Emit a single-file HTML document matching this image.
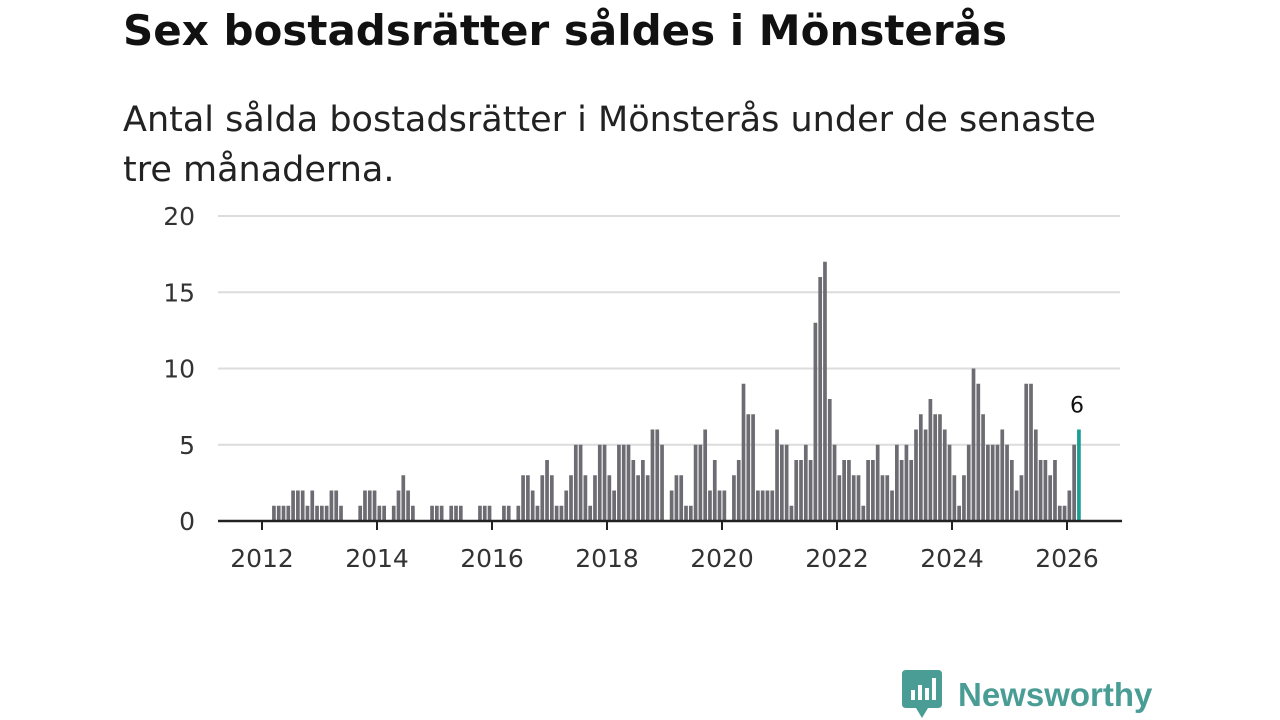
<!DOCTYPE html>
<html><head><meta charset="utf-8">
<style>
body{margin:0;width:1280px;height:720px;background:#fff;font-family:"DejaVu Sans","Liberation Sans",sans-serif;overflow:hidden;position:relative}
h1{position:absolute;left:123px;top:6px;margin:0;font-size:42px;font-weight:bold;color:#111;letter-spacing:0px;white-space:nowrap}
.sub{position:absolute;left:123px;top:95px;margin:0;font-size:35px;line-height:50px;color:#222;width:1000px}
svg{position:absolute;left:0;top:0}
.logo{position:absolute;left:902px;top:670px;display:flex;align-items:center}
.logo span{font-family:"Liberation Sans",sans-serif;font-size:33px;color:#4a9d95;font-weight:bold;margin-left:16px;letter-spacing:0px}
</style></head><body>
<h1>Sex bostadsrätter såldes i Mönsterås</h1>
<p class="sub">Antal sålda bostadsrätter i Mönsterås under de senaste tre månaderna.</p>
<svg id="chart" width="1280" height="720"></svg>
<div class="logo">
<svg width="40" height="50" style="position:static"><path d="M0 4 Q0 0 4 0 H36 Q40 0 40 4 V34 Q40 38 36 38 H26 L20 48 L14 38 H4 Q0 38 0 34Z" fill="#4a9d95"/><rect x="9" y="20" width="4" height="10" fill="#fff"/><rect x="16" y="15" width="4" height="15" fill="#fff"/><rect x="23" y="18" width="4" height="12" fill="#fff"/><rect x="30" y="8" width="4" height="22" fill="#fff"/></svg>
<span>Newsworthy</span></div>
<script>
const startYear = 2012, startMonth = 2; // March 2012
const values = [1,1,1,1,2,2,2,1,2,1,1,1,2,2,1,0,0,0,1,2,2,2,1,1,0,1,2,3,2,1,0,0,0,1,1,1,0,1,1,1,0,0,0,1,1,1,0,0,
1,1,0,1,3,3,2,1,3,4,3,1,1,2,3,5,5,3,1,3,5,5,3,2,5,5,5,4,3,4,3,6,6,5,0,2,3,3,1,1,5,5,6,2,4,2,2,0,3,4,9,7,7,2,2,2,2,6,5,5,1,4,4,
5,4,13,16,17,8,
5,3,4,4,3,3,1,4,4,5,3,3,2,5,4,5,4,6,7,6,8,7,7,6,5,3,1,3,5,10,9,7,5,5,5,6,5,4,2,3,9,9,6,4,4,3,4,1,1,2,5,6];
const yTicks = [0,5,10,15,20];
const xTicks = [2012,2014,2016,2018,2020,2022,2024,2026];
const svg = document.getElementById('chart');
const NS = 'http://www.w3.org/2000/svg';
const FF = 'DejaVu Sans, Liberation Sans, sans-serif';
const x = t => 262 + (t - 2012) * 57.5;
const y = v => 521 - v * 15.25;
function mk(tag, attrs, parent){const e=document.createElementNS(NS,tag);for(const k in attrs)e.setAttribute(k,attrs[k]);(parent||svg).appendChild(e);return e;}
yTicks.forEach(v=>{
  if(v>0){const g=mk('line',{x1:218,x2:1120,y1:y(v),y2:y(v),stroke:'#dcdcdc','stroke-width':2});
  
  }
  const t=mk('text',{x:195,y:y(v)+9,'text-anchor':'end','font-size':25,fill:'#333','font-family':FF});
  t.textContent=v;
  
  
});
values.forEach((v,i)=>{
  const m = startMonth + i;
  const t = startYear + (m + 0.5) / 12;
  const last = i === values.length - 1;
  const r = mk('rect',{x:x(t)-1.9,y:y(v),width:3.7,height:y(0)-y(v),fill:last?'#1a9e96':'#6d6c72'});
  
  
  if(last){
    const l=mk('text',{x:x(t)-2,y:y(v)-17,'text-anchor':'middle','font-size':22,fill:'#111','font-family':FF});
    l.textContent=v;
    
    
  }
});
const ax=mk('line',{x1:218,x2:1122,y1:521,y2:521,stroke:'#222','stroke-width':2.5});


xTicks.forEach(yr=>{
  const tk=mk('line',{x1:x(yr),x2:x(yr),y1:521,y2:530,stroke:'#222','stroke-width':2});
  
  
  const t=mk('text',{x:x(yr),y:567,'text-anchor':'middle','font-size':25,fill:'#333','font-family':FF});
  t.textContent=yr;
  
  
});
</script>
</body></html>
